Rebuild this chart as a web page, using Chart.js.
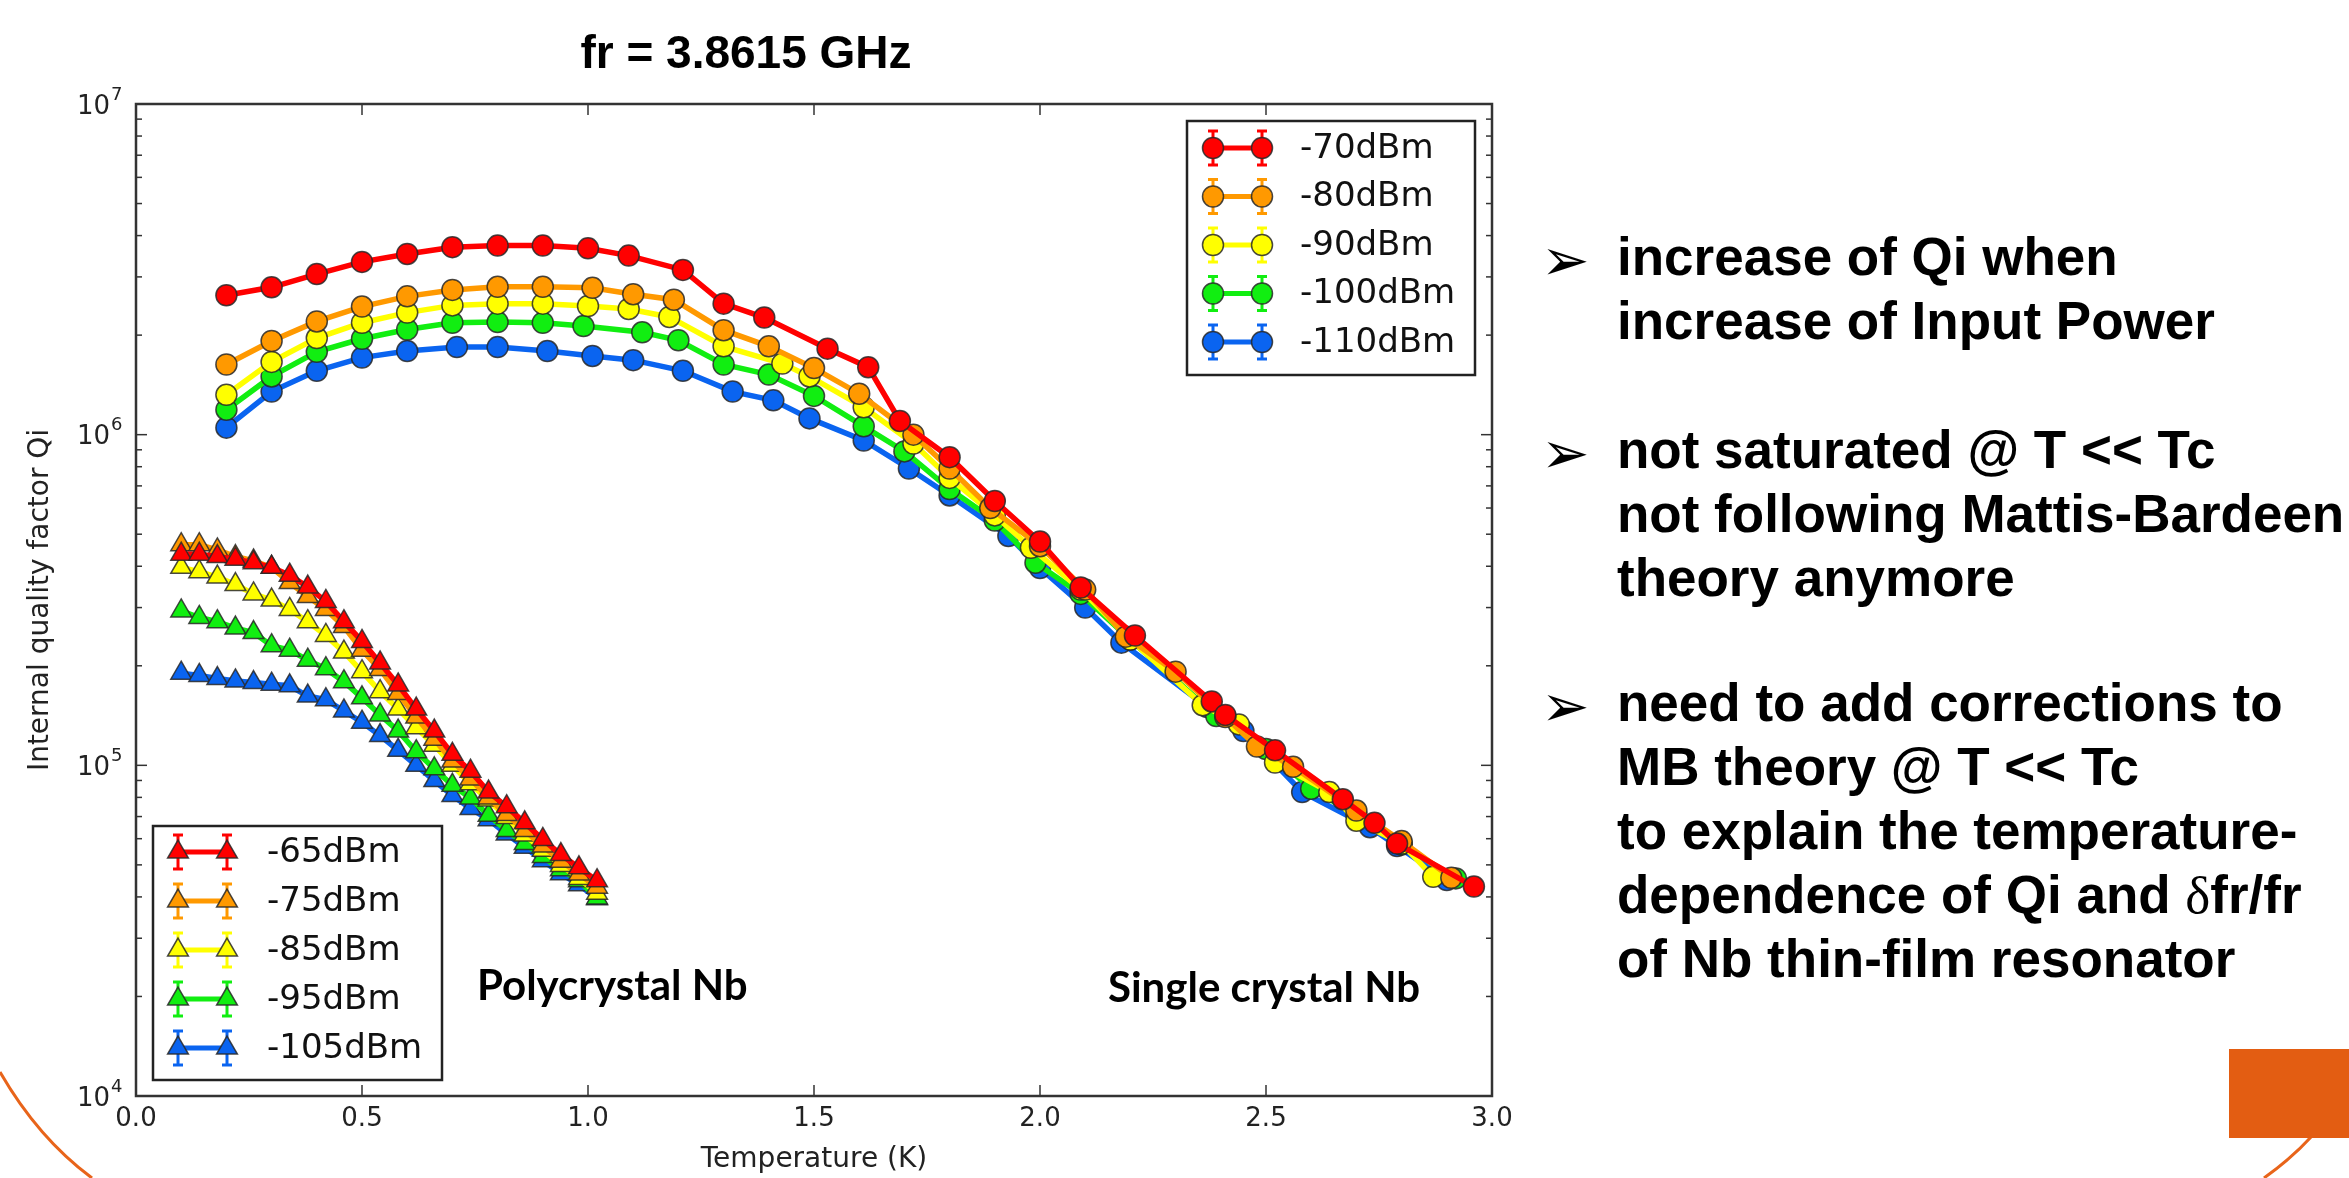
<!DOCTYPE html>
<html>
<head>
<meta charset="utf-8">
<script src="https://cdn.jsdelivr.net/npm/chart.js@4.4.0/dist/chart.umd.min.js"></script>
<style>
body { margin: 0; width: 2349px; height: 1178px; overflow: hidden; background: #fff; position: relative; }
#qi { position: absolute; left: 0; top: 0; }
.notes { position: absolute; left: 1617px; font: bold 53px "Liberation Sans", Arial, sans-serif; line-height: 64px; color: #000; white-space: nowrap; z-index: 2; }
.notes .arrow { position: absolute; left: -76px; top: 1px; font: normal 58px "DejaVu Sans"; }
.notes .delta { font-family: "Liberation Serif", serif; font-weight: normal; }
.tab { position: absolute; left: 2229px; top: 1049px; width: 120px; height: 89px; background: #e35d12; }
svg.deco { position: absolute; left: 0; top: 0; }
</style>
</head>
<body>
<svg class="deco" width="2349" height="1178">
  <path d="M0,1072 Q38,1138 92,1178" fill="none" stroke="#e8641a" stroke-width="3"/>
  <path d="M2312,1136 Q2292,1158 2264,1178" fill="none" stroke="#e8641a" stroke-width="3"/>
</svg>
<div class="tab"></div>
<canvas id="qi" width="1658" height="1178"></canvas>
<div class="notes" style="top:225px"><span class="arrow">➢</span>increase of Qi when<br>increase of Input Power</div>
<div class="notes" style="top:418px"><span class="arrow">➢</span>not saturated @ T &lt;&lt; Tc<br>not following Mattis-Bardeen<br>theory anymore</div>
<div class="notes" style="top:671px"><span class="arrow">➢</span>need to add corrections to<br>MB theory @ T &lt;&lt; Tc<br>to explain the temperature-<br>dependence of Qi and <span class="delta">δ</span>fr/fr<br>of Nb thin-film resonator</div>
<script>
// single crystal Nb (circles)
const t70 = [0.2, 0.3, 0.4, 0.5, 0.6, 0.7, 0.8, 0.9, 1.0, 1.09, 1.21, 1.3, 1.39, 1.53, 1.62, 1.69, 1.8, 1.9, 2.0, 2.09, 2.21, 2.38, 2.41, 2.52, 2.67, 2.74, 2.79, 2.96]
const q70 = [2.64e6, 2.79e6, 3.06e6, 3.33e6, 3.52e6, 3.69e6, 3.73e6, 3.73e6, 3.66e6, 3.48e6, 3.15e6, 2.49e6, 2.26e6, 1.82e6, 1.6e6, 1.1e6, 8.55e5, 6.3e5, 4.75e5, 3.45e5, 2.47e5, 1.56e5, 1.42e5, 1.11e5, 7.9e4, 6.7e4, 5.8e4, 4.3e4]
const t80 = [0.2, 0.3, 0.4, 0.5, 0.6, 0.7, 0.8, 0.9, 1.01, 1.1, 1.19, 1.3, 1.4, 1.5, 1.6, 1.72, 1.8, 1.89, 2.0, 2.1, 2.19, 2.3, 2.41, 2.48, 2.56, 2.7, 2.8, 2.91]
const q80 = [1.63e6, 1.92e6, 2.2e6, 2.44e6, 2.62e6, 2.74e6, 2.8e6, 2.8e6, 2.78e6, 2.66e6, 2.56e6, 2.07e6, 1.85e6, 1.59e6, 1.33e6, 1.0e6, 7.9e5, 6.0e5, 4.6e5, 3.4e5, 2.45e5, 1.92e5, 1.4e5, 1.14e5, 9.9e4, 7.3e4, 5.9e4, 4.57e4]
const t90 = [0.2, 0.3, 0.4, 0.5, 0.6, 0.7, 0.8, 0.9, 1.0, 1.09, 1.18, 1.3, 1.43, 1.49, 1.61, 1.72, 1.8, 1.9, 1.98, 2.09, 2.2, 2.36, 2.44, 2.52, 2.64, 2.7, 2.8, 2.87]
const q90 = [1.32e6, 1.66e6, 1.96e6, 2.18e6, 2.34e6, 2.46e6, 2.49e6, 2.49e6, 2.45e6, 2.4e6, 2.27e6, 1.85e6, 1.64e6, 1.5e6, 1.21e6, 9.4e5, 7.4e5, 5.7e5, 4.55e5, 3.4e5, 2.4e5, 1.52e5, 1.33e5, 1.02e5, 8.3e4, 6.8e4, 5.8e4, 4.6e4]
const t100 = [0.2, 0.3, 0.4, 0.5, 0.6, 0.7, 0.8, 0.9, 0.99, 1.12, 1.2, 1.3, 1.4, 1.5, 1.61, 1.7, 1.8, 1.9, 1.99, 2.09, 2.2, 2.39, 2.5, 2.6, 2.7, 2.8, 2.92]
const q100 = [1.19e6, 1.5e6, 1.78e6, 1.95e6, 2.08e6, 2.18e6, 2.19e6, 2.18e6, 2.13e6, 2.04e6, 1.93e6, 1.63e6, 1.52e6, 1.31e6, 1.06e6, 8.9e5, 6.85e5, 5.5e5, 4.1e5, 3.3e5, 2.4e5, 1.41e5, 1.12e5, 8.5e4, 7.1e4, 5.76e4, 4.55e4]
const t110 = [0.2, 0.3, 0.4, 0.5, 0.6, 0.71, 0.8, 0.91, 1.01, 1.1, 1.21, 1.32, 1.41, 1.49, 1.61, 1.71, 1.8, 1.93, 2.0, 2.1, 2.18, 2.37, 2.45, 2.58, 2.73, 2.79, 2.9]
const q110 = [1.05e6, 1.35e6, 1.56e6, 1.71e6, 1.79e6, 1.84e6, 1.84e6, 1.79e6, 1.73e6, 1.68e6, 1.56e6, 1.35e6, 1.27e6, 1.12e6, 9.6e5, 7.9e5, 6.55e5, 4.94e5, 3.95e5, 3.0e5, 2.35e5, 1.5e5, 1.27e5, 8.3e4, 6.5e4, 5.7e4, 4.5e4]

// polycrystal Nb (triangles)
const tPoly = [0.10, 0.14, 0.18, 0.22, 0.26, 0.30, 0.34, 0.38, 0.42, 0.46, 0.50, 0.54, 0.58, 0.62, 0.66, 0.70, 0.74, 0.78, 0.82, 0.86, 0.90, 0.94, 0.98, 1.02]
const q65 = [4.35e5, 4.35e5, 4.28e5, 4.2e5, 4.1e5, 3.97e5, 3.76e5, 3.46e5, 3.13e5, 2.72e5, 2.37e5, 2.04e5, 1.75e5, 1.48e5, 1.27e5, 1.08e5, 9.6e4, 8.3e4, 7.5e4, 6.7e4, 5.97e4, 5.37e4, 4.9e4, 4.48e4]
const q75 = [4.65e5, 4.65e5, 4.48e5, 4.28e5, 4.15e5, 3.97e5, 3.57e5, 3.24e5, 2.96e5, 2.63e5, 2.23e5, 1.95e5, 1.65e5, 1.4e5, 1.2e5, 1.03e5, 9.1e4, 7.97e4, 7.1e4, 6.35e4, 5.7e4, 5.13e4, 4.69e4, 4.28e4]
const q85 = [3.97e5, 3.85e5, 3.71e5, 3.52e5, 3.3e5, 3.16e5, 2.96e5, 2.72e5, 2.47e5, 2.2e5, 1.92e5, 1.67e5, 1.48e5, 1.3e5, 1.15e5, 1.0e5, 8.8e4, 7.85e4, 6.95e4, 6.16e4, 5.54e4, 4.98e4, 4.55e4, 4.1e4]
const q95 = [2.93e5, 2.8e5, 2.72e5, 2.6e5, 2.52e5, 2.3e5, 2.23e5, 2.08e5, 1.96e5, 1.79e5, 1.6e5, 1.42e5, 1.27e5, 1.1e5, 9.76e4, 8.7e4, 7.97e4, 7.06e4, 6.35e4, 5.8e4, 5.3e4, 4.83e4, 4.48e4, 3.97e4]
const q105 = [1.9e5, 1.87e5, 1.83e5, 1.8e5, 1.78e5, 1.76e5, 1.74e5, 1.62e5, 1.58e5, 1.46e5, 1.35e5, 1.23e5, 1.11e5, 1.0e5, 8.99e4, 8.1e4, 7.4e4, 6.85e4, 6.2e4, 5.65e4, 5.15e4, 4.7e4, 4.35e4, 3.95e4]

const singleLabels = ["-70dBm", "-80dBm", "-90dBm", "-100dBm", "-110dBm"]
const polyLabels = ["-65dBm", "-75dBm", "-85dBm", "-95dBm", "-105dBm"]
const powerColors = ["#ff0000", "#ff9900", "#ffff00", "#11ee11", "#0a64f0"]
const tempTicks = [0.0, 0.5, 1.0, 1.5, 2.0, 2.5, 3.0]
const qiDecades = [4, 5, 6, 7]

const edge = "rgba(40,40,40,0.85)"

function series(label, temps, qi, color, shape) {
    return {
        label: label,
        data: temps.map((t, i) => ({x: t, y: qi[i]})),
        borderColor: color,
        backgroundColor: color,
        borderWidth: 5.5,
        pointStyle: shape,
        pointRadius: shape === "circle" ? 10.5 : 12,
        pointBackgroundColor: color,
        pointBorderColor: edge,
        pointBorderWidth: 1.5,
        tension: 0
    }
}

const singleT = [t70, t80, t90, t100, t110]
const singleQ = [q70, q80, q90, q100, q110]
const polyQ = [q65, q75, q85, q95, q105]

const datasets = []
singleLabels.forEach((l, i) => datasets.push(series(l, singleT[i], singleQ[i], powerColors[i], "circle")))
polyLabels.forEach((l, i) => datasets.push(series(l, tPoly, polyQ[i], powerColors[i], "triangle")))

function marker(ctx, shape, x, y, r) {
    ctx.beginPath()
    if (shape === "circle") {
        ctx.arc(x, y, r, 0, Math.PI * 2)
    } else {
        let a = 0
        ctx.moveTo(x + Math.sin(a) * r, y - Math.cos(a) * r)
        a += Math.PI * 2 / 3
        ctx.lineTo(x + Math.sin(a) * r, y - Math.cos(a) * r)
        a += Math.PI * 2 / 3
        ctx.lineTo(x + Math.sin(a) * r, y - Math.cos(a) * r)
        ctx.closePath()
    }
    ctx.fill()
    ctx.stroke()
}

function seg(ctx, x1, y1, x2, y2) {
    ctx.beginPath()
    ctx.moveTo(x1, y1)
    ctx.lineTo(x2, y2)
    ctx.stroke()
}

function legendBox(ctx, box, labels, shape) {
    ctx.fillStyle = "#fff"
    ctx.fillRect(box.x0, box.y0, box.x1 - box.x0, box.y1 - box.y0)
    ctx.strokeStyle = "#222"
    ctx.lineWidth = 2.5
    ctx.strokeRect(box.x0, box.y0, box.x1 - box.x0, box.y1 - box.y0)
    labels.forEach((label, i) => {
        const cy = box.first + i * box.step
        const col = powerColors[i]
        ctx.strokeStyle = col
        ctx.lineWidth = 5
        seg(ctx, box.m1, cy, box.m2, cy)
        ctx.lineWidth = 3
        for (const mx of [box.m1, box.m2]) {
            seg(ctx, mx, cy - 17, mx, cy + 17)
            seg(ctx, mx - 5, cy - 17, mx + 5, cy - 17)
            seg(ctx, mx - 5, cy + 17, mx + 5, cy + 17)
        }
        ctx.fillStyle = col
        ctx.strokeStyle = edge
        ctx.lineWidth = 1.5
        marker(ctx, shape, box.m1, cy, shape === "circle" ? 10.5 : 12)
        marker(ctx, shape, box.m2, cy, shape === "circle" ? 10.5 : 12)
        ctx.fillStyle = "#111"
        ctx.font = '34px "DejaVu Sans"'
        ctx.textAlign = "left"
        ctx.textBaseline = "middle"
        ctx.fillText(label, box.tx, cy + 1)
    })
}

const decor = {
    id: "decor",
    afterDraw(chart) {
        const ctx = chart.ctx
        const a = chart.chartArea
        const x = chart.scales.x
        const y = chart.scales.y
        ctx.save()
        ctx.strokeStyle = "#333"
        ctx.lineWidth = 1.5
        tempTicks.forEach(t => {
            const px = x.getPixelForValue(t)
            seg(ctx, px, a.bottom, px, a.bottom - 11)
            seg(ctx, px, a.top, px, a.top + 11)
        })
        qiDecades.forEach(e => {
            for (let m = 1; m <= 9; m++) {
                const v = m * Math.pow(10, e)
                if (v > 1e7) break
                const py = y.getPixelForValue(v)
                const len = m === 1 ? 11 : 6
                seg(ctx, a.left, py, a.left + len, py)
                seg(ctx, a.right, py, a.right - len, py)
            }
        })
        ctx.lineWidth = 2.5
        ctx.strokeRect(a.left, a.top, a.right - a.left, a.bottom - a.top)

        ctx.fillStyle = "#222"
        ctx.textBaseline = "middle"
        qiDecades.forEach(e => {
            const py = y.getPixelForValue(Math.pow(10, e))
            ctx.font = '26px "DejaVu Sans"'
            ctx.textAlign = "right"
            ctx.fillText("10", 110, py + 3)
            ctx.font = '18px "DejaVu Sans"'
            ctx.textAlign = "left"
            ctx.fillText(String(e), 111, py - 9)
        })

        legendBox(ctx, {x0: 1187, y0: 121, x1: 1475, y1: 375, first: 148, step: 48.5, m1: 1213, m2: 1262, tx: 1300}, singleLabels, "circle")
        legendBox(ctx, {x0: 153, y0: 826, x1: 442, y1: 1080, first: 852, step: 49, m1: 178, m2: 227, tx: 267}, polyLabels, "triangle")

        ctx.fillStyle = "#000"
        ctx.font = 'bold 42px Lato'
        ctx.textAlign = "left"
        ctx.fillText("Polycrystal Nb", 477, 986)
        ctx.fillText("Single crystal Nb", 1108, 988)
        ctx.restore()
    }
}

Chart.defaults.font.family = '"DejaVu Sans"'

const qiChart = new Chart(document.getElementById("qi"), {
    type: "line",
    data: {datasets: datasets},
    options: {
        responsive: false,
        animation: false,
        layout: {padding: {left: 0, right: 166, top: 0, bottom: 0}},
        plugins: {
            legend: {display: false},
            tooltip: {enabled: false},
            title: {
                display: true,
                text: "fr = 3.8615 GHz",
                color: "#000",
                font: {family: '"Liberation Sans", Arial, sans-serif', size: 46, weight: "bold"},
                padding: {top: 28, bottom: 20.8}
            }
        },
        scales: {
            x: {
                type: "linear",
                min: 0,
                max: 3,
                afterBuildTicks: s => { s.ticks = tempTicks.map(v => ({value: v})) },
                afterFit: s => { s.height = 82 },
                grid: {display: false, drawTicks: false},
                border: {display: false},
                ticks: {
                    font: {size: 26},
                    color: "#222",
                    padding: 8,
                    maxRotation: 0,
                    autoSkip: false,
                    callback: v => v.toFixed(1)
                },
                title: {
                    display: true,
                    text: "Temperature (K)",
                    color: "#222",
                    font: {size: 28},
                    padding: {top: 0, bottom: 1}
                }
            },
            y: {
                type: "logarithmic",
                min: 1e4,
                max: 1e7,
                afterFit: s => { s.width = 136 },
                grid: {display: false, drawTicks: false},
                border: {display: false},
                ticks: {display: false},
                title: {
                    display: true,
                    text: "Internal quality factor Qi",
                    color: "#222",
                    font: {size: 28},
                    padding: {top: 24, bottom: 0}
                }
            }
        }
    },
    plugins: [decor]
})
</script>
</body>
</html>
